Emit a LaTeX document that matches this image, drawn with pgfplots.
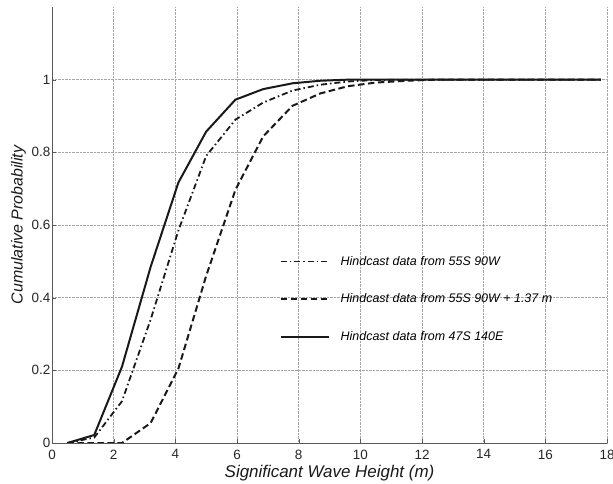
\documentclass[border=0pt]{standalone}
\usepackage{fontspec}
\setmainfont{Liberation Sans}
\usepackage{pgfplots}
\pgfplotsset{compat=1.18}
\begin{document}
\begin{tikzpicture}
\begin{axis}[
    scale only axis,
    width=555bp, height=436bp,
    xmin=0, xmax=18,
    ymin=0, ymax=1.2,
    xtick={0,2,...,18},
    ytick={0,0.2,0.4,0.6,0.8,1},
    axis x line=bottom, axis y line=left,
    axis line style={-, draw=black!65, line width=0.8pt},
    tick style={black!65},
    tick align=inside,
    major tick length=4bp,
    xmajorgrids=true, ymajorgrids=true,
    grid style={densely dotted, black!35, line width=0.5pt},
    /pgf/number format/assume math mode=true,
    ticklabel style={font=\fontsize{13.5}{15}\selectfont, text=black!85},
    xticklabel style={inner sep=0.5bp, yshift=-6bp},
    yticklabel style={inner sep=0.5bp, xshift=-1bp},
    xlabel={\itshape Significant Wave Height (m)},
    ylabel={\itshape Cumulative Probability},
    xlabel style={font=\fontsize{17}{19}\selectfont, text=black!90, inner sep=0.5bp, yshift=-5bp},
    ylabel style={font=\fontsize{16}{18}\selectfont, text=black!90, inner sep=1bp, yshift=4bp},
    legend cell align=left,
    legend style={at={(axis cs:7.38,0.52)}, anchor=north west, draw=none, fill=none,
        inner sep=0pt, row sep=23bp, column sep=9bp, font=\fontsize{12.5}{14}\selectfont\itshape},
    legend image code/.code={\draw[#1] (0bp,0bp) -- (48bp,0bp);},
    after end axis/.code={
        \coordinate (bl) at (rel axis cs:0,0);
        \coordinate (tr) at (rel axis cs:1,1);
    },
]
\addplot[color=black!90, line width=1.8pt, dash pattern=on 6bp off 3bp on 1.5bp off 3bp]
    coordinates {
    (0.5,0)(1.37,0.015)(2.27,0.115)(3.2,0.34)(4.1,0.585)(5.0,0.79)(5.95,0.89)(6.85,0.937)(7.8,0.97)(8.7,0.986)(9.6,0.995)(10.5,0.999)(11.5,1)(12.4,1)(13.3,1)(14.2,1)(15.1,1)(16.0,1)(16.9,1)(17.8,1)
    };
\addplot[color=black!90, line width=2pt, dash pattern=on 6.5bp off 3.5bp]
    coordinates {
    (0.5,0)(1.37,0)(2.27,0)(3.2,0.055)(4.1,0.205)(5.0,0.46)(5.95,0.697)(6.85,0.844)(7.8,0.928)(8.7,0.962)(9.6,0.982)(10.5,0.992)(11.5,0.997)(12.4,1)(13.3,1)(14.2,1)(15.1,1)(16.0,1)(16.9,1)(17.8,1)
    };
\addplot[color=black!90, line width=2pt]
    coordinates {
    (0.5,0)(1.37,0.022)(2.27,0.21)(3.2,0.485)(4.1,0.717)(5.0,0.857)(5.95,0.945)(6.85,0.974)(7.8,0.99)(8.7,0.997)(9.6,1)(10.5,1)(11.5,1)(12.4,1)(13.3,1)(14.2,1)(15.1,1)(16.0,1)(16.9,1)(17.8,1)
    };
\legend{Hindcast data from 55S 90W, Hindcast data from 55S 90W + 1.37 m, Hindcast data from 47S 140E}
\end{axis}
\pgfresetboundingbox
\path ([xshift=-52bp,yshift=-41bp]bl) rectangle ([xshift=6bp,yshift=7bp]tr);
\end{tikzpicture}
\end{document}
